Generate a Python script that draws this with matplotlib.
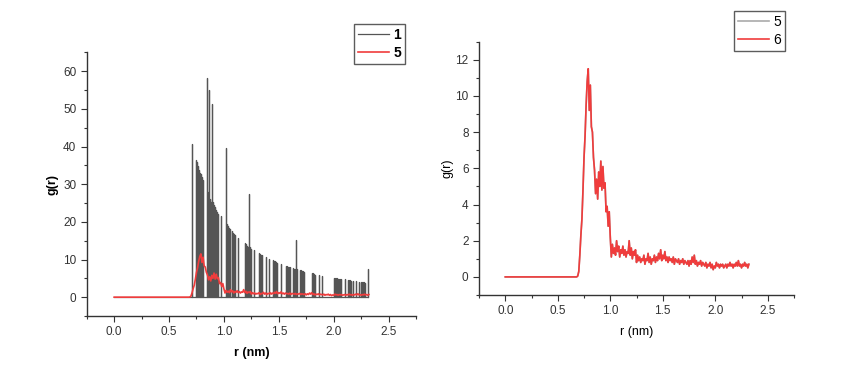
import numpy as np
import matplotlib
matplotlib.use("Agg")
import matplotlib.pyplot as plt
from matplotlib.ticker import MultipleLocator

plt.rcParams['font.family'] = ['Liberation Sans', 'DejaVu Sans']

# series "1": sparse spikes (r in nm, g(r)), zero elsewhere
spike_r = [0.712, 0.742, 0.748, 0.752, 0.757, 0.762, 0.767, 0.772, 0.777, 0.782,
           0.788, 0.793, 0.798, 0.803, 0.808, 0.812, 0.843, 0.852, 0.857, 0.862,
           0.864, 0.868, 0.873, 0.878, 0.888, 0.900, 0.905, 0.910, 0.915, 0.920,
           0.925, 0.930, 0.935, 0.940, 0.948, 0.974, 1.019, 1.025, 1.030, 1.035,
           1.040, 1.047, 1.055, 1.070, 1.078, 1.085, 1.092, 1.100, 1.125, 1.190,
           1.198, 1.205, 1.212, 1.220, 1.229, 1.235, 1.242, 1.250, 1.275, 1.323,
           1.330, 1.338, 1.345, 1.381, 1.415, 1.451, 1.458, 1.466, 1.474, 1.482,
           1.518, 1.563, 1.570, 1.578, 1.586, 1.595, 1.603, 1.627, 1.633, 1.640,
           1.646, 1.652, 1.658, 1.664, 1.695, 1.702, 1.710, 1.718, 1.725, 1.800,
           1.808, 1.815, 1.823, 1.831, 1.862, 1.892, 2.000, 2.008, 2.016, 2.025,
           2.034, 2.042, 2.050, 2.060, 2.070, 2.099, 2.130, 2.140, 2.150, 2.160,
           2.172, 2.202, 2.233, 2.245, 2.255, 2.265, 2.277, 2.288, 2.312]
spike_g = [40.7, 21.5, 36.3, 35.8, 35.2, 34.8, 34.2, 33.8, 33.5, 33.0,
           32.8, 32.4, 32.0, 31.6, 31.2, 30.8, 58.2, 28.0, 27.6, 27.2,
           55.0, 26.8, 26.0, 25.4, 51.3, 25.2, 24.8, 24.4, 24.0, 23.6,
           23.2, 22.9, 22.5, 22.2, 22.0, 21.5, 39.7, 19.5, 19.3, 19.0,
           18.7, 18.3, 18.0, 17.6, 17.3, 17.0, 16.7, 16.4, 15.6, 14.4,
           14.1, 13.8, 13.6, 13.4, 27.4, 13.2, 13.0, 12.8, 12.4, 11.6,
           11.5, 11.3, 11.1, 10.7, 10.2, 9.8, 9.7, 9.6, 9.4, 9.2,
           8.8, 8.4, 8.3, 8.2, 8.1, 8.0, 7.9, 7.7, 7.6, 7.6,
           7.5, 15.1, 7.5, 7.4, 7.2, 7.1, 7.0, 6.9, 6.8, 6.4,
           6.3, 6.2, 6.1, 6.0, 5.8, 5.7, 5.2, 5.1, 5.1, 5.0,
           5.0, 4.9, 4.9, 4.8, 4.8, 4.7, 4.5, 4.5, 4.5, 4.4,
           4.4, 4.2, 4.1, 4.0, 4.0, 3.9, 3.9, 3.8, 7.6]

# series "5"/"6": g(r) sampled every 0.01 nm from 0.68 to 2.32 (zero below 0.68)
r_start = [0.0]
g_start = [0.0]
g_noisy = [0.0, 0.05, 0.3, 1.2, 2.3, 3.2, 4.8, 6.6, 7.8, 9.5,
           10.8, 11.5, 9.2, 10.6, 8.3, 8.0, 6.6, 5.9, 4.6, 5.4,
           4.3, 5.8, 5.0, 6.4, 4.8, 6.1, 4.9, 5.2, 3.6, 3.9,
           2.8, 3.6, 2.2, 1.1, 1.8, 1.3, 1.6, 1.2, 2.0, 1.4,
           1.7, 1.1, 1.5, 1.3, 1.7, 1.2, 1.5, 1.1, 1.4, 1.3,
           2.0, 1.2, 1.6, 1.0, 1.4, 1.2, 1.5, 0.8, 1.2, 0.9,
           1.1, 0.8, 1.0, 0.9, 1.2, 0.7, 1.0, 0.9, 1.3, 0.8,
           1.1, 0.7, 1.0, 0.9, 1.2, 0.8, 1.1, 0.9, 1.3, 1.0,
           1.5, 0.9, 1.2, 1.0, 1.4, 0.9, 1.1, 0.8, 1.1, 0.9,
           1.0, 0.8, 1.1, 0.7, 1.0, 0.9, 0.8, 1.0, 0.7, 0.9,
           0.8, 1.0, 0.7, 0.9, 0.8, 0.7, 0.9, 0.6, 0.9, 0.7,
           1.1, 0.8, 1.2, 0.7, 0.9, 0.6, 0.8, 0.7, 0.9, 0.6,
           0.8, 0.7, 0.6, 0.8, 0.5, 0.7, 0.6, 0.8, 0.5, 0.7,
           0.4, 0.6, 0.5, 0.8, 0.6, 0.7, 0.5, 0.7, 0.6, 0.7,
           0.5, 0.6, 0.7, 0.5, 0.7, 0.6, 0.8, 0.6, 0.7, 0.5,
           0.7, 0.6, 0.8, 0.6, 0.9, 0.6, 0.7, 0.5, 0.7, 0.6,
           0.8, 0.6, 0.7, 0.5, 0.7]
r_noisy = np.round(0.68 + 0.01 * np.arange(len(g_noisy)), 2)

r_red = np.concatenate([r_start, r_noisy])
g_red = np.concatenate([g_start, g_noisy])

# spikes as a connected line: 0 -> peak -> 0 at each position
r_black = [0.0]
g_black = [0.0]
for r, g in zip(spike_r, spike_g):
    r_black += [r, r, r]
    g_black += [0.0, g, 0.0]

red = '#f03c3c'
axcol = '#333333'

fig = plt.figure(figsize=(8.6, 3.81), dpi=100)
ax1 = fig.add_axes([0.1008, 0.1706, 0.383, 0.692])
ax2 = fig.add_axes([0.557, 0.2257, 0.3663, 0.665])

ax1.plot(r_black, g_black, color='#555555', lw=0.9, label='1')
ax1.plot(r_red, g_red, color=red, lw=1.2, label='5')
ax1.set_xlim(-0.25, 2.75)
ax1.set_ylim(-5, 65)
ax1.yaxis.set_major_locator(MultipleLocator(10))
ax1.yaxis.set_minor_locator(MultipleLocator(5))
ax1.set_xlabel('r (nm)', fontsize=9, fontweight='bold', labelpad=6)
ax1.set_ylabel('g(r)', fontsize=9, fontweight='bold', labelpad=3)
leg1 = ax1.legend(loc='upper right', bbox_to_anchor=(0.471, 0.937),
                  bbox_transform=fig.transFigure, fancybox=False,
                  prop={'size': 10, 'weight': 'bold'}, handlelength=2.2,
                  labelspacing=0.25, borderpad=0.3, handletextpad=0.3,
                  borderaxespad=0)

ax2.plot(r_red, g_red, color='#aaaaaa', lw=1.2, label='5')
ax2.plot(r_red, g_red, color=red, lw=1.2, label='6')
ax2.set_xlim(-0.25, 2.75)
ax2.set_ylim(-1, 13)
ax2.yaxis.set_major_locator(MultipleLocator(2))
ax2.yaxis.set_minor_locator(MultipleLocator(1))
ax2.set_xlabel('r (nm)', fontsize=9, labelpad=6)
ax2.set_ylabel('g(r)', fontsize=9, labelpad=1)
leg2 = ax2.legend(loc='upper right', bbox_to_anchor=(0.9128, 0.971),
                  bbox_transform=fig.transFigure, fancybox=False,
                  prop={'size': 10}, handlelength=2.2,
                  labelspacing=0.25, borderpad=0.3, handletextpad=0.3,
                  borderaxespad=0)

for ax, leg in [(ax1, leg1), (ax2, leg2)]:
    ax.xaxis.set_major_locator(MultipleLocator(0.5))
    ax.xaxis.set_minor_locator(MultipleLocator(0.25))
    ax.spines['top'].set_visible(False)
    ax.spines['right'].set_visible(False)
    for s in ['left', 'bottom']:
        ax.spines[s].set_color(axcol)
        ax.spines[s].set_linewidth(1.0)
    ax.tick_params(which='major', direction='out', length=4, width=0.8,
                   colors=axcol, labelsize=8.5, labelcolor='#333333')
    ax.tick_params(which='minor', direction='out', length=2.5, width=0.8,
                   colors=axcol)
    ax.xaxis.set_major_formatter(plt.FuncFormatter(lambda v, p: f'{v:.1f}'))
    frame = leg.get_frame()
    frame.set_edgecolor('#333333')
    frame.set_linewidth(1.0)

fig.savefig('out.png', dpi=100)
